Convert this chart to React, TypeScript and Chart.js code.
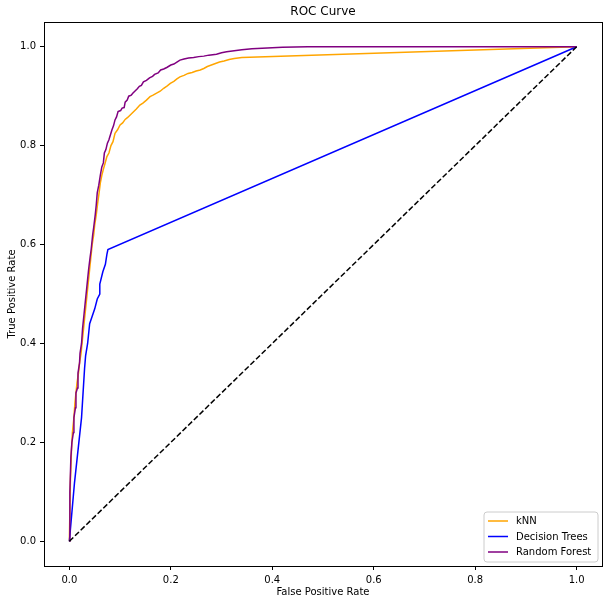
import React, { useEffect, useRef } from "react";
import { Chart, registerables } from "chart.js";

Chart.register(...registerables);

const chartTitle = "ROC Curve";
const xTitle = "False Positive Rate";
const yTitle = "True Positive Rate";
const tickValues = [0, 0.2, 0.4, 0.6, 0.8, 1.0];

const knnLabel = "kNN";
const knnFpr = [0, 0.002, 0.004, 0.006, 0.009, 0.011, 0.015, 0.018, 0.02, 0.023, 0.025, 0.028, 0.03, 0.033, 0.035, 0.038, 0.04, 0.043, 0.045, 0.048, 0.05, 0.053, 0.056, 0.058, 0.061, 0.064, 0.067, 0.07, 0.074, 0.078, 0.082, 0.086, 0.09, 0.095, 0.1, 0.105, 0.11, 0.115, 0.12, 0.126, 0.132, 0.139, 0.145, 0.152, 0.159, 0.165, 0.172, 0.179, 0.186, 0.193, 0.199, 0.206, 0.212, 0.218, 0.226, 0.234, 0.242, 0.25, 0.258, 0.265, 0.272, 0.28, 0.288, 0.296, 0.305, 0.315, 0.325, 0.34, 1];
const knnTpr = [0, 0.12, 0.18, 0.22, 0.25, 0.28, 0.32, 0.34, 0.36, 0.38, 0.4, 0.43, 0.45, 0.48, 0.5, 0.53, 0.55, 0.58, 0.6, 0.62, 0.64, 0.66, 0.685, 0.7, 0.724, 0.74, 0.752, 0.763, 0.778, 0.785, 0.8, 0.808, 0.825, 0.832, 0.842, 0.846, 0.853, 0.857, 0.862, 0.868, 0.874, 0.882, 0.886, 0.892, 0.899, 0.902, 0.906, 0.91, 0.916, 0.921, 0.926, 0.93, 0.935, 0.939, 0.942, 0.946, 0.948, 0.951, 0.953, 0.956, 0.96, 0.963, 0.966, 0.969, 0.971, 0.974, 0.976, 0.978, 1];

const dtLabel = "Decision Trees";
const dtFpr = [0, 0.01, 0.024, 0.03, 0.032, 0.036, 0.04, 0.045, 0.05, 0.055, 0.06, 0.06, 0.066, 0.071, 0.074, 0.076, 1];
const dtTpr = [0, 0.117, 0.25, 0.35, 0.375, 0.4, 0.44, 0.455, 0.47, 0.49, 0.5, 0.52, 0.545, 0.56, 0.58, 0.59, 1];

const rfLabel = "Random Forest";
const rfFpr = [0, 0.001, 0.003, 0.005, 0.008, 0.009, 0.012, 0.013, 0.016, 0.017, 0.02, 0.021, 0.024, 0.026, 0.029, 0.031, 0.034, 0.036, 0.038, 0.041, 0.043, 0.046, 0.048, 0.051, 0.053, 0.055, 0.058, 0.061, 0.064, 0.067, 0.069, 0.072, 0.075, 0.078, 0.081, 0.084, 0.087, 0.09, 0.093, 0.096, 0.101, 0.104, 0.108, 0.11, 0.114, 0.117, 0.122, 0.125, 0.129, 0.134, 0.138, 0.142, 0.146, 0.152, 0.158, 0.164, 0.168, 0.175, 0.18, 0.186, 0.192, 0.2, 0.206, 0.212, 0.218, 0.226, 0.235, 0.245, 0.255, 0.265, 0.275, 0.29, 0.3, 0.31, 0.325, 0.34, 0.36, 0.38, 0.4, 0.42, 0.47, 1];
const rfTpr = [0, 0.1, 0.17, 0.2, 0.22, 0.25, 0.27, 0.3, 0.31, 0.34, 0.36, 0.38, 0.4, 0.43, 0.46, 0.48, 0.51, 0.53, 0.55, 0.575, 0.59, 0.62, 0.635, 0.66, 0.68, 0.705, 0.72, 0.74, 0.757, 0.765, 0.785, 0.792, 0.805, 0.812, 0.822, 0.832, 0.84, 0.852, 0.858, 0.869, 0.871, 0.876, 0.877, 0.888, 0.892, 0.9, 0.902, 0.906, 0.91, 0.915, 0.92, 0.922, 0.929, 0.932, 0.937, 0.94, 0.944, 0.947, 0.953, 0.955, 0.958, 0.963, 0.965, 0.969, 0.973, 0.975, 0.977, 0.978, 0.98, 0.981, 0.983, 0.985, 0.988, 0.99, 0.992, 0.994, 0.996, 0.997, 0.998, 0.999, 1, 1];

const chanceFpr = [0, 1];
const chanceTpr = [0, 1];

const FONT = "'DejaVu Sans', sans-serif";

const toPoints = (xs: number[], ys: number[]) => xs.map((x, i) => ({ x, y: ys[i] }));

const frameAndLegend = {
  id: "frameAndLegend",
  afterDraw(chart: any) {
    const { ctx, chartArea } = chart;
    const { left, right, top, bottom } = chartArea;
    ctx.save();
    ctx.strokeStyle = "#000";
    ctx.lineWidth = 1;
    ctx.strokeRect(Math.round(left) + 0.5, Math.round(top) + 0.5, Math.round(right - left), Math.round(bottom - top));
    ctx.fillStyle = "#000";
    ctx.font = `12px ${FONT}`;
    ctx.textAlign = "center";
    ctx.textBaseline = "middle";
    ctx.fillText(chartTitle, (left + right) / 2, 12);
    const items = chart.data.datasets.filter((d: any) => d.label);
    const bx = 484, by = 512, bw = 114, bh = 50, r = 3;
    ctx.beginPath();
    ctx.moveTo(bx + r, by);
    ctx.lineTo(bx + bw - r, by);
    ctx.quadraticCurveTo(bx + bw, by, bx + bw, by + r);
    ctx.lineTo(bx + bw, by + bh - r);
    ctx.quadraticCurveTo(bx + bw, by + bh, bx + bw - r, by + bh);
    ctx.lineTo(bx + r, by + bh);
    ctx.quadraticCurveTo(bx, by + bh, bx, by + bh - r);
    ctx.lineTo(bx, by + r);
    ctx.quadraticCurveTo(bx, by, bx + r, by);
    ctx.closePath();
    ctx.fillStyle = "rgba(255,255,255,0.8)";
    ctx.fill();
    ctx.strokeStyle = "#cccccc";
    ctx.lineWidth = 1;
    ctx.stroke();
    ctx.font = `10px ${FONT}`;
    ctx.textAlign = "left";
    ctx.textBaseline = "middle";
    items.forEach((d: any, i: number) => {
      const y = 521 + i * 15.5;
      ctx.strokeStyle = d.borderColor;
      ctx.lineWidth = 1.5;
      ctx.beginPath();
      ctx.moveTo(488, y);
      ctx.lineTo(508, y);
      ctx.stroke();
      ctx.fillStyle = "#000";
      ctx.fillText(d.label, 516, y + 0.5);
    });
    ctx.restore();
  },
};

export default function App() {
  const ref = useRef<HTMLCanvasElement>(null);
  useEffect(() => {
    if (!ref.current) return;
    const tickOpts = {
      font: { family: FONT, size: 10 },
      color: "#000",
      padding: 4,
      callback: (v: any) => Number(v).toFixed(1),
    };
    const gridOpts = {
      drawOnChartArea: false,
      drawTicks: true,
      tickLength: 4,
      color: "#000",
      tickColor: "#000",
      tickWidth: 1,
    };
    const setTicks = (scale: any) => {
      scale.ticks = tickValues.map((v) => ({ value: v }));
    };
    const line = (label: string, xs: number[], ys: number[], color: string, order: number, dash?: number[]) => ({
      label,
      data: toPoints(xs, ys),
      borderColor: color,
      backgroundColor: color,
      showLine: true,
      borderWidth: 1.5,
      borderDash: dash || [],
      pointRadius: 0,
      order,
    });
    const chart = new Chart(ref.current, {
      type: "scatter",
      data: {
        datasets: [
          line(knnLabel, knnFpr, knnTpr, "#FFA500", 3),
          line(dtLabel, dtFpr, dtTpr, "#0000FF", 2),
          line(rfLabel, rfFpr, rfTpr, "#800080", 1),
          line("", chanceFpr, chanceTpr, "#000000", 0, [5.5, 2.4]),
        ],
      },
      options: {
        animation: false,
        responsive: false,
        layout: { padding: { top: 22, right: 10, left: 0, bottom: 0 } },
        plugins: {
          legend: { display: false },
          title: { display: false },
          tooltip: { enabled: false },
        },
        scales: {
          x: {
            type: "linear",
            min: -0.05,
            max: 1.05,
            afterBuildTicks: setTicks,
            afterFit: (s: any) => {
              s.height = 38;
            },
            ticks: tickOpts,
            grid: gridOpts,
            border: { display: false },
            title: {
              display: true,
              text: xTitle,
              color: "#000",
              font: { family: FONT, size: 10 },
              padding: { top: 0, bottom: 6 },
            },
          },
          y: {
            type: "linear",
            min: -0.05,
            max: 1.05,
            afterBuildTicks: setTicks,
            afterFit: (s: any) => {
              s.width = 44;
            },
            ticks: tickOpts,
            grid: gridOpts,
            border: { display: false },
            title: {
              display: true,
              text: yTitle,
              color: "#000",
              font: { family: FONT, size: 10 },
              padding: { top: 6, bottom: 0 },
            },
          },
        },
      } as any,
      plugins: [frameAndLegend],
    });
    return () => chart.destroy();
  }, []);
  return (
    <div style={{ position: "absolute", left: 0, top: 0, width: 612, height: 604, background: "#fff" }}>
      <canvas ref={ref} width={612} height={604} />
    </div>
  );
}
